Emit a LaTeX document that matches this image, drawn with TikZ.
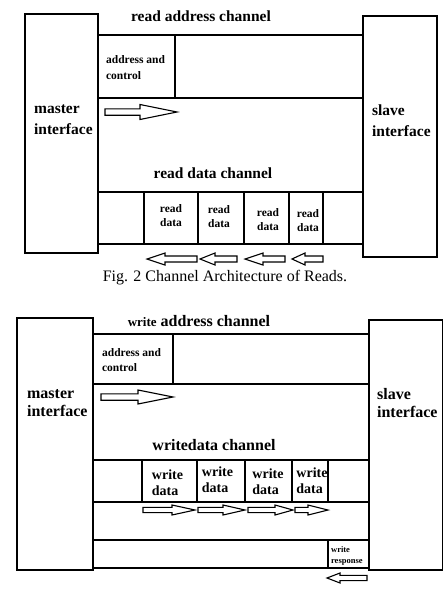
\documentclass[tikz,border=0pt]{standalone}
\usepackage{fontspec}
\setmainfont{Liberation Serif}

\tikzset{every picture/.style={line width=0.75pt}}
\tikzset{
  chan/.style={line width=1.3},
  hollow/.style={line width=1.1, fill=white},
  bigtxt/.style={font=\bfseries\fontsize{15.5}{21}\selectfont, inner sep=0.75pt, align=left},
  celltxt/.style={font=\bfseries\fontsize{11.5}{14}\selectfont, inner sep=0.75pt, align=center},
}
% tail x, head base x, tip x, y, shaft half, head half
\newcommand{\hollowarrow}[6]{%
  \draw [hollow] ({#1},{#4-#5}) -- ({#2},{#4-#5}) -- ({#2},{#4-#6}) -- ({#3},{#4}) -- ({#2},{#4+#6}) -- ({#2},{#4+#5}) -- ({#1},{#4+#5}) -- cycle ;}

\begin{document}
\begin{tikzpicture}[x=1pt,y=1pt,yscale=-1,xscale=1]
	\useasboundingbox (0,0) rectangle (444,592);
	
	%Shape: Rectangle [master, reads]
	\draw [chan] (25,14) rectangle (98,253);
	%Shape: Rectangle [slave, reads]
	\draw [chan] (363,16) rectangle (437,257);
	%Straight Lines [read address channel]
	\draw [chan] (98,35) -- (363,35);
	\draw [chan] (175,35) -- (175,98);
	\draw [chan] (98,98) -- (363,98);
	%Straight Lines [read data channel]
	\draw [chan] (98,192) -- (363,192);
	\draw [chan] (98,244) -- (363,244);
	\foreach \x in {144,198,244,289,323}
		\draw [chan] (\x,192) -- (\x,244);
	%Arrows
	\hollowarrow{105}{140}{177}{112}{3.2}{7.5}
	\hollowarrow{197}{165}{147}{259}{3}{6}
	\hollowarrow{237}{215}{200}{259}{3}{6}
	\hollowarrow{285}{263}{245}{259}{3}{6}
	\hollowarrow{323}{305}{292}{259}{3}{6}
	
	% Text Node
	\draw (201,16) node [bigtxt] (rac) {read address channel};
	% Text Node
	\draw (105,68) node [anchor=west, celltxt, align=left, font=\bfseries\fontsize{11.5}{16}\selectfont] (rac1) {address and\\control};
	% Text Node
	\draw (33,120) node [anchor=west, bigtxt] (mst1) {master\\interface};
	% Text Node
	\draw (371,121) node [anchor=west, bigtxt] (slv1) {slave\\interface};
	% Text Node
	\draw (213,173) node [bigtxt] (rdc) {read data channel};
	% Text Node
	\draw (171,216) node [celltxt] (rd1) {read\\data};
	\draw (219,217) node [celltxt] (rd2) {read\\data};
	\draw (268,220) node [celltxt] (rd3) {read\\data};
	\draw (308,221) node [celltxt] (rd4) {read\\data};
	% Text Node
	\draw (225,278) node [font=\fontsize{16}{18}\selectfont, inner sep=0.75pt] (cap) {Fig. 2 Channel Architecture of Reads.};
	
	%Shape: Rectangle [master, writes]
	\draw [chan] (17,318) rectangle (93,570);
	%Shape: Rectangle [slave, writes]
	\draw [chan] (369,320) rectangle (442.5,570);
	%Straight Lines [write address channel]
	\draw [chan] (93,334) -- (369,334);
	\draw [chan] (173,334) -- (173,384);
	\draw [chan] (93,384) -- (369,384);
	%Straight Lines [write data channel]
	\draw [chan] (93,460) -- (369,460);
	\draw [chan] (93,502) -- (369,502);
	\foreach \x in {142,197,245,292,328}
		\draw [chan] (\x,460) -- (\x,502);
	%Straight Lines [write response channel]
	\draw [chan] (93,540) -- (369,540);
	\draw [chan] (328,540) -- (328,568);
	\draw [chan] (93,568) -- (369,568);
	%Arrows
	\hollowarrow{101}{138}{173}{397}{3.2}{7}
	\hollowarrow{143}{172}{195}{510}{2.6}{5}
	\hollowarrow{198}{223}{245}{510}{2.6}{5}
	\hollowarrow{248}{275}{293}{510}{2.6}{5}
	\hollowarrow{295}{308}{328}{510}{2.6}{5}
	\hollowarrow{367}{340}{327}{578}{2.6}{5}
	
	% Text Node
	\draw (199,321) node [bigtxt, font=\bfseries\fontsize{16}{18}\selectfont] (wac) {{\fontsize{13}{15}\selectfont write} address channel};
	% Text Node
	\draw (101,360) node [anchor=west, celltxt, align=left, font=\bfseries\fontsize{11.5}{15}\selectfont] (wac1) {address and\\control};
	% Text Node
	\draw (26,403) node [anchor=west, bigtxt, font=\bfseries\fontsize{16}{18}\selectfont] (mst2) {master\\interface};
	% Text Node
	\draw (376,403) node [anchor=west, bigtxt, font=\bfseries\fontsize{16}{18}\selectfont] (slv2) {slave\\interface};
	% Text Node
	\draw (214,445) node [bigtxt, font=\bfseries\fontsize{16}{18}\selectfont] (wdc) {writedata channel};
	% Text Node
	\draw (167.5,483) node [celltxt, align=left, font=\bfseries\fontsize{14}{16}\selectfont] (wd1) {write\\data};
	\draw (217.5,480) node [celltxt, align=left, font=\bfseries\fontsize{14}{16}\selectfont] (wd2) {write\\data};
	\draw (268,482) node [celltxt, align=left, font=\bfseries\fontsize{14}{16}\selectfont] (wd3) {write\\data};
	\draw (312,480.5) node [celltxt, align=left, font=\bfseries\fontsize{14}{16}\selectfont] (wd4) {write\\data};
	% Text Node
	\draw (330,555.5) node [anchor=west, celltxt, align=left, font=\bfseries\fontsize{8.5}{11}\selectfont] (wrs) {write\\response};
	
\end{tikzpicture}
\end{document}
